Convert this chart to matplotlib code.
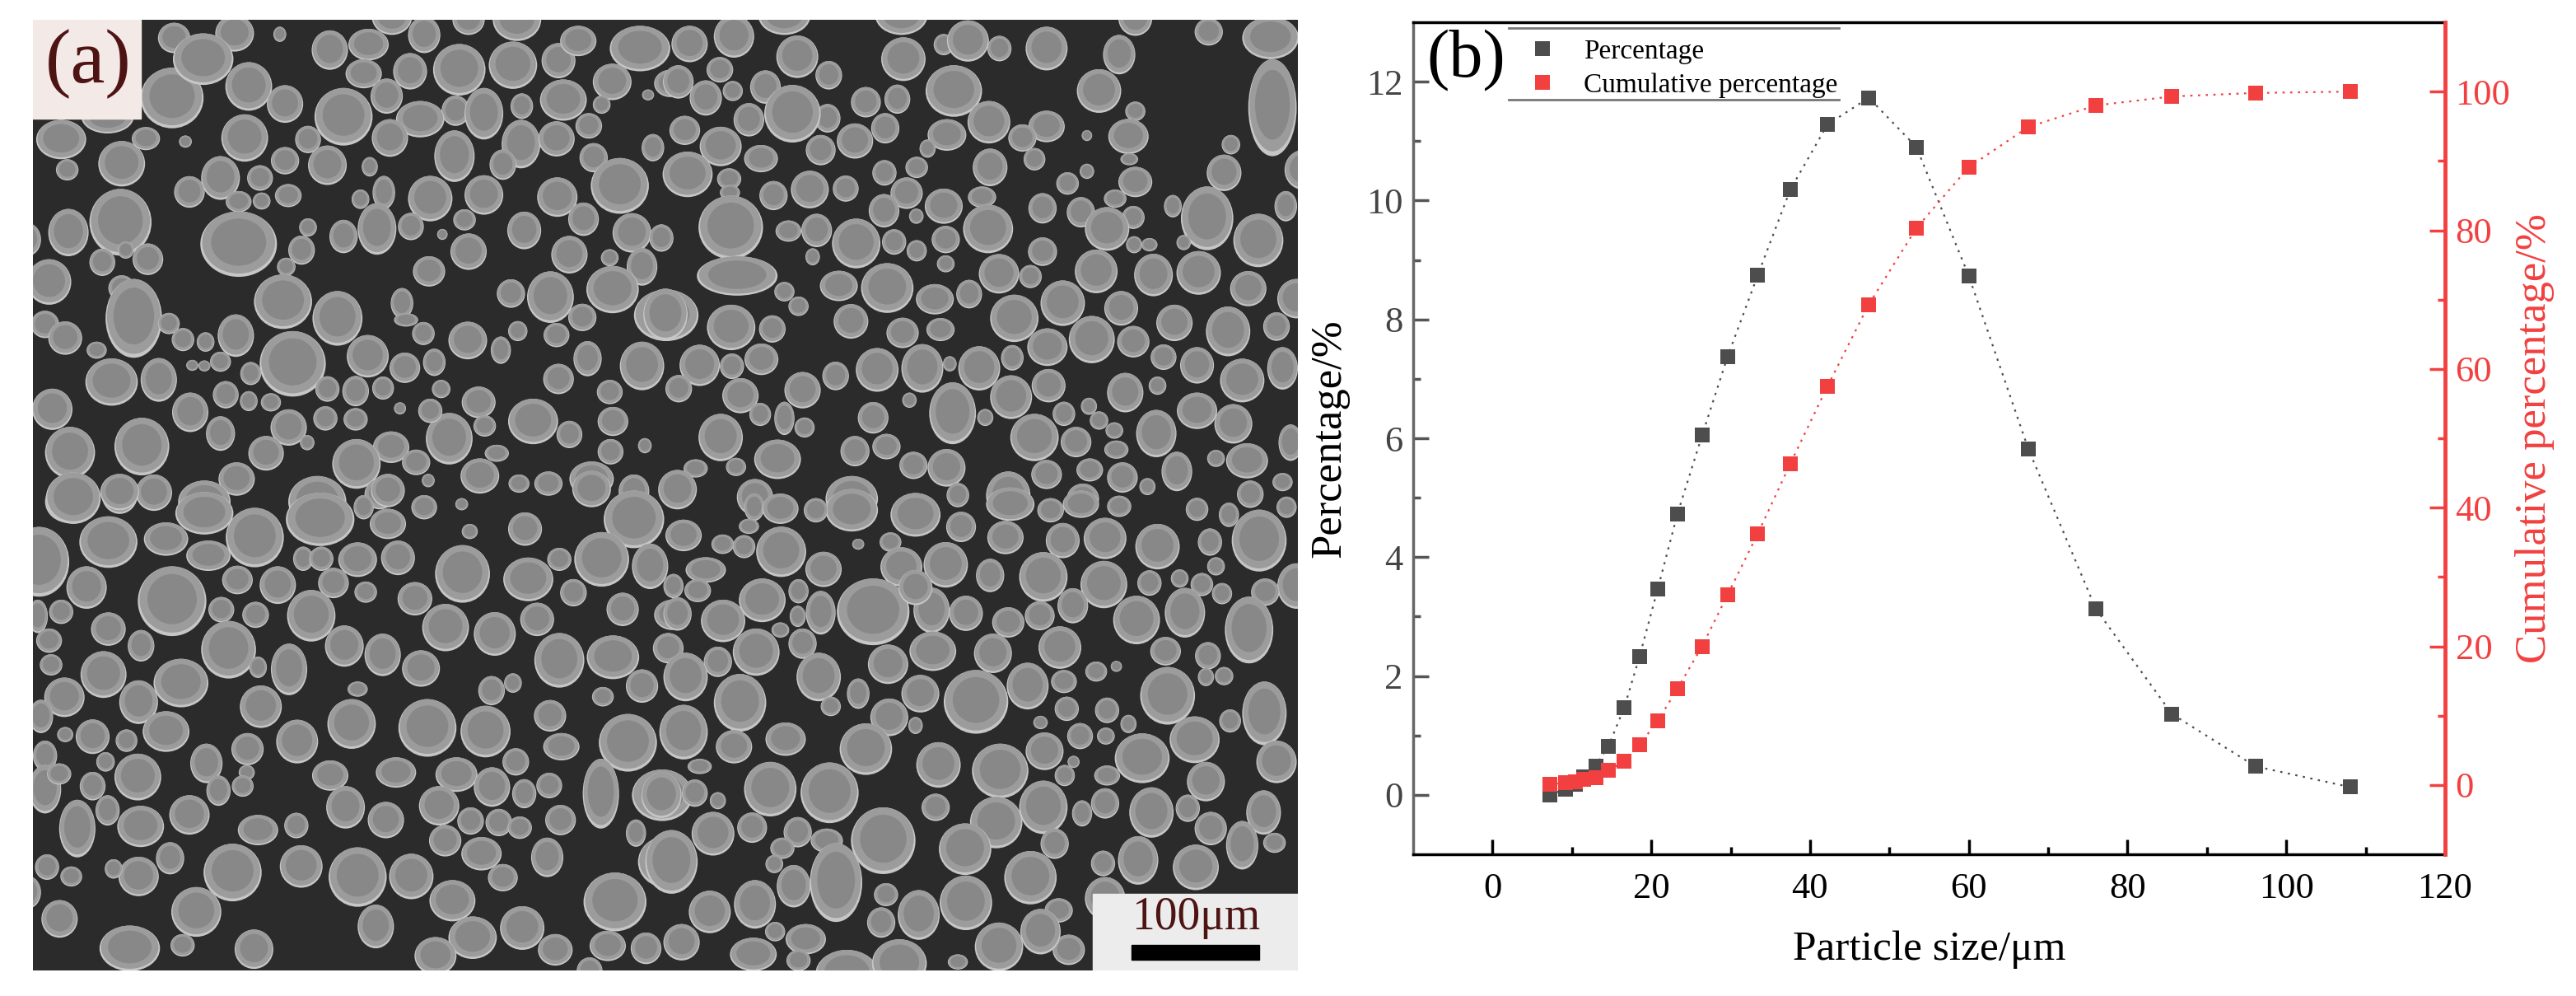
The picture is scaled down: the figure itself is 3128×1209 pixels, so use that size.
import matplotlib
matplotlib.use('Agg')
import matplotlib.pyplot as plt
from matplotlib.lines import Line2D
from matplotlib.patches import Ellipse, Rectangle

plt.rcParams['font.family'] = ['Liberation Serif', 'DejaVu Serif']

W, H = 3128, 1209

# --- panel (b) values ---
size_um = [7.2, 9.2, 10.4, 11.5, 13.0, 14.6, 16.6, 18.5, 20.8, 23.3, 26.4, 29.6,
           33.4, 37.5, 42.2, 47.4, 53.4, 60.0, 67.5, 76.0, 85.6, 96.1, 108.1]
percentage = [0.0, 0.1, 0.18, 0.3, 0.49, 0.82, 1.47, 2.32, 3.46, 4.73, 6.05, 7.37,
              8.74, 10.18, 11.28, 11.73, 10.9, 8.73, 5.82, 3.13, 1.36, 0.48, 0.13]
cumulative = [0.1, 0.3, 0.5, 0.8, 1.1, 2.1, 3.4, 5.8, 9.2, 13.9, 20.0, 27.4,
              36.2, 46.3, 57.5, 69.3, 80.3, 89.1, 94.9, 98.0, 99.3, 99.8, 100.0]
x_ticks = [0, 20, 40, 60, 80, 100, 120]
left_ticks = [0, 2, 4, 6, 8, 10, 12]
right_ticks = [0, 20, 40, 60, 80, 100]

particles_tl = [
    (345,258,78,100),(535,220,58,80),(350,60,40,50),(500,45,48,60),(422,130,75,85),(612,48,16,25),
    (736,100,45,65),(832,82,50,52),(890,-10,50,60),(970,50,40,60),(820,178,45,48),(935,170,42,60),
    (1057,165,65,85),(1190,150,60,78),(1303,135,42,58),(1352,70,45,50),(1200,0,60,70),(1080,0,40,50),
    (1505,95,75,75),(1436,205,48,60),(1580,210,40,45),(1315,265,58,68),(1525,248,15,18),(1410,280,22,30),
    (1212,285,28,42),(1048,300,35,50),(1118,310,48,85),(877,252,40,58),(960,328,60,60),(770,320,72,95),
    (625,278,45,62),(525,390,58,78),(682,395,32,45),(885,390,45,62),(1045,450,50,85),(1210,410,48,80),
    (1298,393,45,58),(1378,350,33,42),(1537,422,28,45),(1390,455,35,48),(1165,478,33,50),(1455,548,72,92),
    (1300,585,50,65),(1118,578,48,65),(985,590,55,75),(730,480,48,65),(625,465,35,45),(835,485,20,32),
    (563,522,32,42),(465,522,48,72),(388,568,38,52),(633,580,33,38),(567,598,22,28),(510,600,32,35),
    (220,475,58,75),(280,392,35,38),(378,402,16,20),(70,395,62,65),(185,320,65,55),(85,495,28,35),
    (88,702,50,78),(217,668,77,110),(510,740,95,108),(-15,725,35,55),(666,760,33,48),(682,685,22,30),
    (628,815,23,30),(770,715,35,55),(870,570,28,55),(853,690,48,85),(812,592,22,32),(937,682,32,45),
    (1070,660,28,35),(1218,695,42,62),(1365,658,38,55),(1080,765,45,60),(982,830,40,50),(1015,708,13,18),
    (1330,775,45,62),(1485,703,48,65),(1430,785,22,28),(1510,815,38,62),(285,790,38,52),(172,800,32,45),
    (230,760,20,28),(40,865,55,75),(220,885,33,42),(250,985,70,130),(337,1002,27,35),(372,1055,28,38),
    (428,1063,22,32),(503,1042,45,70),(620,930,72,90),(755,985,62,90),(915,935,28,50),(925,990,30,22),
    (968,1035,28,38),(1078,1058,48,62),(1185,903,35,47),(1283,915,58,85),(1437,890,65,78),(1570,975,80,85),
    (1362,982,35,45),(1202,1027,24,33),(1298,1040,32,40),(1160,1090,25,45),(1375,1118,35,58),(1303,1185,38,50),
    (1510,1142,55,80),(1430,1228,32,40),(1105,1262,42,52),(1240,1325,62,75),(1330,1368,32,45),(1438,1325,38,48),
    (1432,1425,32,42),(1517,1405,17,25),(1120,1340,28,35),(1032,1382,58,85),(1012,1218,23,30),(985,1290,30,40),
    (910,1282,15,20),(995,1130,28,45),(922,1148,38,50),(830,1110,52,70),(644,1135,82,108),(30,1005,35,45),
    (80,1050,42,55),(158,1090,25,28),(195,1195,65,78),(312,1188,45,72),(465,1128,26,33),(395,1140,15,18),
    (425,1142,15,18),(540,1167,26,38),(730,1218,30,42),(800,1225,33,50),(868,1215,27,38),(478,1237,32,45),
    (535,1258,22,33),(590,1262,25,30),(48,1285,50,68),(390,1295,45,65),(465,1365,36,57),(634,1345,45,60),
    (725,1315,30,40),(800,1318,30,37),(578,1430,44,57),(92,1428,62,85),(270,1408,68,95),(680,1395,18,25),
    (888,1410,45,52),(950,1460,35,42),(802,1465,60,82),(1108,1505,48,58),(1150,1430,30,28),(1385,1515,55,58),
    (1278,1530,35,40),(1205,1530,26,30),(1490,1555,38,55),(505,1515,45,55),(300,1560,45,60),(215,1565,45,65),
    (90,1590,60,70),(425,1590,65,70),(705,1590,72,85),(860,1565,38,50),(980,1520,16,22),
]
particles_tr = [
    (60,80,45,60),(170,55,50,70),(295,-15,65,65),(327,122,52,70),(585,-15,65,65),(590,130,55,72),
    (828,95,30,42),(690,82,25,35),(750,70,52,68),(945,95,52,72),(1125,115,40,65),(1165,-5,42,58),
    (1347,40,35,45),(1500,60,70,70),(32,205,38,55),(135,165,33,42),(405,183,33,47),(248,222,38,55),
    (100,258,40,58),(167,235,25,33),(402,325,32,47),(315,310,70,95),(497,272,37,50),(575,262,32,48),
    (715,235,70,85),(1075,235,55,72),(1165,302,25,32),(802,338,53,70),(698,380,48,52),(945,352,45,52),
    (885,390,35,45),(1148,385,50,58),(1045,382,13,18),(545,358,35,50),(470,400,45,58),(207,330,38,55),
    (48,365,38,48),(137,418,52,65),(385,430,37,50),(237,458,42,45),(55,510,62,75),(158,525,30,35),
    (650,425,20,30),(623,487,28,35),(543,505,30,42),(805,487,43,62),(915,460,27,37),(1402,412,23,32),
    (1150,460,22,20),(1165,535,42,50),(1045,500,18,25),(997,540,28,37),(1505,290,60,160),(1385,505,43,60),
    (1580,495,45,65),(160,570,25,25),(162,685,80,105),(268,580,35,48),(358,560,47,62),(447,557,32,43),
    (598,572,40,52),(690,615,47,58),(785,585,35,35),(542,630,38,55),(622,648,18,25),(800,690,62,80),
    (935,622,35,50),(1030,635,35,50),(1115,590,28,30),(1160,652,28,38),(1095,690,55,72),(1258,615,22,37),
    (1343,655,65,105),(1538,615,28,50),(1470,728,62,88),(305,697,32,35),(375,695,38,55),(473,738,60,82),
    (567,733,30,42),(623,762,25,35),(695,725,35,45),(-10,720,30,45),(1200,742,20,22),(1162,742,20,28),
    (1285,735,18,25),(935,765,36,47),(365,782,18,28),(178,845,100,65),(827,838,50,65),(905,847,28,38),
    (1068,830,53,72),(1210,842,48,70),(1322,835,55,72),(1445,887,45,58),(430,878,47,50),(550,885,65,82),
    (668,922,47,50),(753,905,32,47),(695,805,22,28),(295,897,25,32),(330,945,25,32),(1565,920,48,65),
    (985,935,55,75),(865,985,60,78),(1130,952,42,57),(1262,1000,45,60),(1395,1028,55,82),(1515,1012,33,47),
    (0,972,55,85),(163,1015,60,75),(265,1020,33,45),(460,995,43,57),(588,1033,40,50),(682,1022,35,38),
    (947,1080,50,62),(1057,1055,57,78),(1160,1062,40,52),(1235,1113,32,42),(1318,1140,42,60),(1430,1190,55,72),
    (1530,1150,38,70),(165,1143,30,42),(85,1140,50,68),(238,1120,42,52),(525,1155,53,72),(637,1150,52,80),
    (705,1135,17,25),(778,1150,52,73),(860,1115,28,42),(950,1207,42,55),(1140,1230,45,65),(1220,1207,22,30),
    (422,1175,33,47),(340,1222,45,60),(186,1240,45,58),(33,1217,33,45),(857,1245,52,72),(515,1313,38,52),
    (605,1255,18,25),(793,1312,20,28),(712,1298,58,102),(235,1302,27,38),(295,1315,25,55),(345,1345,25,33),
    (1050,1275,20,28),(1075,1322,23,30),(988,1300,28,40),(1318,1290,50,60),(1408,1333,47,65),(1217,1365,50,78),
    (137,1378,55,78),(1113,1355,22,27),(915,1378,60,78),(1018,1393,38,50),(1118,1418,30,30),(470,1423,36,50),
    (548,1408,35,42),(278,1450,58,65),(615,1470,35,45),(697,1478,47,62),(1442,1455,52,58),(1365,1447,22,28),
    (175,1475,25,30),(75,1480,30,30),(945,1500,38,48),(1052,1485,33,38),(1133,1510,38,50),(1268,1490,38,65),
    (30,1550,48,65),(222,1575,45,60),(462,1580,65,75),(850,1570,55,80),(1530,1525,25,30),(1035,1580,40,50),
    (1550,1395,30,60),(1195,1540,20,28),(1450,1565,33,45),
]
particles_bl = [
    (100,10,68,85),(215,-10,48,60),(425,60,72,70),(550,140,72,98),(820,40,25,40),(880,95,45,50),
    (712,80,85,88),(970,40,32,40),(1063,30,16,20),(880,-15,42,55),(1220,112,42,55),(1083,120,20,25),
    (1490,80,75,95),(1385,-20,48,60),(15,220,75,115),(330,145,55,55),(187,155,72,85),(435,200,55,50),
    (805,213,48,57),(905,207,42,57),(670,210,25,40),(715,210,30,40),(1065,260,68,95),(1228,278,62,72),
    (1305,212,30,38),(1410,212,68,90),(1530,235,45,75),(133,305,50,70),(507,280,38,47),(345,350,85,115),
    (607,297,45,62),(745,290,38,50),(825,320,28,35),(947,342,43,55),(1340,322,33,45),(467,378,32,42),
    (552,395,33,43),(690,398,60,85),(1023,437,58,78),(1145,458,52,72),(1250,410,42,55),(1462,377,40,55),
    (1585,395,45,50),(70,385,30,40),(12,400,25,55),(187,442,43,55),(268,497,33,52),(485,510,68,95),
    (772,498,48,68),(867,527,45,70),(962,572,47,60),(1305,545,62,90),(1438,535,65,72),(1575,505,38,50),
    (40,480,32,40),(45,560,28,35),(175,592,57,77),(367,620,68,80),(558,568,22,35),(635,575,45,85),
    (1137,645,33,48),(1190,620,22,32),(1510,630,40,55),(1413,665,27,32),(78,667,50,65),(262,683,48,72),
    (565,698,52,70),(805,640,25,25),(790,755,60,82),(978,768,72,95),(1122,780,62,85),(1282,728,40,52),
    (1475,817,72,95),(20,730,30,55),(148,797,42,57),(232,810,27,37),(330,780,58,67),(655,813,52,72),
    (532,838,40,53),(1310,830,45,45),(80,790,20,25),(30,860,30,50),(180,880,23,32),(260,930,58,77),
    (430,885,40,65),(460,975,30,50),(530,915,20,25),(520,960,27,35),(737,925,45,50),(775,1030,48,70),
    (900,915,50,50),(1050,922,52,57),(1197,880,33,45),(1138,963,45,65),(1218,985,30,48),(1280,958,32,42),
    (1408,985,45,115),(1560,990,75,85),(30,970,40,80),(65,920,30,35),(148,960,32,47),(185,1040,30,50),
    (110,1100,45,95),(267,1093,58,68),(388,1055,50,65),(558,1105,50,50),(653,1090,30,42),(875,1072,45,60),
    (1007,1025,50,65),(1085,1075,33,45),(1155,1080,33,45),(1207,1097,30,37),(1308,1072,38,50),(1022,1140,40,52),
    (1112,1183,50,55),(1275,1195,40,65),(1495,1115,25,45),(340,1198,35,53),(262,1258,50,65),(495,1245,72,95),
    (665,1225,53,70),(805,1260,72,98),(938,1258,55,75),(1165,1262,37,45),(1570,1210,70,85),(35,1227,30,42),
    (95,1258,27,33),(200,1233,22,32),(-15,1310,35,55),(405,1375,62,82),(1040,1338,57,68),(1443,1342,78,97),
    (66,1398,45,62),(850,1423,45,72),(1213,1428,55,72),(1090,1460,60,70),(240,1495,75,75),(371,1485,30,37),
    (548,1498,48,65),(998,1520,52,62),(1295,1500,43,52),(1425,1487,45,50),(1520,1495,38,52),(1380,1570,32,45),
]
particles_br = [
    (220,40,25,45),(285,45,45,50),(462,50,65,70),(373,50,30,40),(620,65,62,72),(855,30,60,55),
    (725,0,28,40),(955,50,33,40),(1030,30,45,45),(1125,37,30,35),(1318,47,28,38),(1397,65,25,40),
    (1472,150,68,102),(1540,40,25,35),(45,133,45,52),(142,162,28,32),(195,170,28,38),(287,187,62,83),
    (392,245,45,58),(207,103,25,25),(733,105,37,50),(843,140,45,55),(985,150,42,58),(1090,143,53,68),
    (1220,170,55,75),(1350,155,30,45),(558,155,27,32),(478,162,15,18),(695,230,55,75),(585,237,52,65),
    (805,265,35,55),(1365,235,22,30),(937,270,60,82),(1087,295,58,78),(1200,290,30,42),(1275,275,22,30),
    (1330,295,28,38),(1565,300,48,75),(100,247,50,42),(20,300,25,40),(330,317,25,40),(240,347,58,72),
    (80,315,33,38),(385,388,37,72),(660,380,45,75),(515,385,90,110),(620,305,42,58),(745,390,42,58),
    (1010,365,38,58),(1168,412,58,80),(1288,388,50,82),(1380,325,25,35),(1487,320,35,45),(1447,445,60,110),
    (30,392,35,55),(143,415,55,70),(328,400,20,35),(928,398,37,48),(850,420,40,50),(1240,515,38,47),
    (1345,530,32,45),(225,518,58,78),(285,445,22,25),(340,490,35,50),(552,558,50,65),(663,515,58,65),
    (812,522,47,65),(978,503,53,70),(130,550,35,50),(50,600,55,80),(380,600,55,80),(478,655,28,50),
    (632,655,47,62),(898,630,52,77),(1068,582,27,33),(1118,565,14,18),(1385,597,23,30),(988,615,32,38),
    (1340,600,20,30),(1245,662,68,95),(185,685,65,95),(410,697,25,32),(620,760,18,28),(555,733,47,62),
    (770,682,80,105),(1095,710,30,42),(995,705,30,40),(1400,745,27,38),(1485,720,55,105),(45,782,60,90),
    (1148,755,20,30),(930,750,18,22),(298,805,50,55),(170,830,45,55),(497,838,65,85),(940,845,47,62),
    (1028,795,32,43),(1092,795,22,28),(1312,807,62,77),(1182,868,68,82),(1515,880,50,70),(677,890,55,75),
    (830,910,70,90),(85,895,30,25),(260,970,65,90),(407,982,72,100),(990,925,25,35),(1095,925,32,33),
    (1340,945,47,65),(1012,880,15,20),(-10,990,50,75),(73,983,32,45),(130,1008,20,28),(670,1030,35,45),
    (820,1080,65,85),(937,1030,60,88),(1033,1050,25,43),(1090,1017,35,50),(1205,1047,55,83),(1295,1033,30,45),
    (1483,1047,43,73),(118,1117,53,72),(215,1097,37,50),(328,1112,35,50),(15,1210,65,105),(540,1140,80,110),
    (743,1168,65,85),(965,1150,35,50),(1352,1100,40,55),(1430,1155,40,80),(1510,1147,28,33),(400,1140,40,40),
    (290,1165,30,35),(270,1217,22,30),(1085,1215,30,42),(1172,1205,50,80),(1315,1228,57,75),(905,1262,65,88),
    (318,1290,42,70),(423,1278,65,130),(222,1350,52,80),(110,1375,52,70),(547,1318,30,38),(628,1385,52,82),
    (745,1345,65,90),(535,1410,35,50),(1090,1330,50,70),(1000,1500,40,50),(975,1370,35,40),(930,1440,50,75),
    (40,1475,45,60),(348,1465,50,50),(272,1440,25,32),(218,1515,58,55),(450,1580,78,80),(580,1545,68,80),
    (827,1490,60,80),(725,1540,25,25),(330,1535,30,35),
]
# crop origin in reference pixels for each quadrant
quadrants = [(particles_tl, 40, 24), (particles_tr, 808, 24),
             (particles_bl, 40, 601), (particles_br, 808, 601)]

BLACK_S = '#4d4d4d'
RED_S = '#f24040'
MAROON = '#4e1414'


def fig_axes(fig, x0, y0, x1, y1):
    # axes from reference pixel box
    return fig.add_axes([x0 / W, 1 - y1 / H, (x1 - x0) / W, (y1 - y0) / H])


def draw_micrograph(fig):
    ax = fig_axes(fig, 40, 24, 1576, 1178)
    ax.set_xlim(40, 1576)
    ax.set_ylim(1178, 24)
    ax.set_axis_off()
    ax.add_patch(Rectangle((40, 24), 1536, 1154, color='#2b2b2b', zorder=0))

    # crop units to reference pixels
    sx, sy = 768 / 1568, 577 / 1568
    for plist, x0, y0 in quadrants:
        for zx, zy, rx, ry in plist:
            cx, cy = x0 + zx * sx, y0 + zy * sy
            w, h = 2 * rx * sx, 2 * ry * sy
            # bright rim, then body, then slightly darker middle
            ax.add_patch(Ellipse((cx, cy), w, h, fc='#c6c6c6', ec='none', zorder=1))
            ax.add_patch(Ellipse((cx, cy - 0.025 * h), 0.95 * w, 0.95 * h, fc='#9c9c9c', ec='none', zorder=1))
            ax.add_patch(Ellipse((cx, cy - 0.03 * h), 0.72 * w, 0.72 * h, fc='#888888', ec='none', zorder=1))

    ax.add_patch(Rectangle((40, 24), 131, 120, color='#f3e9e7', zorder=3))
    ax.text(107, 78, '(a)', fontsize=68, color=MAROON, ha='center', va='center', zorder=4)
    ax.add_patch(Rectangle((1327, 1085), 249, 93, color='#ececec', zorder=3))
    ax.text(1452, 1114, '100\u03bcm', fontsize=40, color=MAROON, ha='center', va='center', zorder=4)
    ax.add_patch(Rectangle((1374, 1147), 155, 18, color='black', zorder=4))


def draw_distribution(fig):
    ax = fig_axes(fig, 1716, 27, 2969, 1037)
    ax.plot(size_um, percentage, ls=(0, (1.2, 3)), lw=1.6, color=BLACK_S,
            marker='s', ms=13.5, mew=0, zorder=3)
    ax.set_xlim(-10, 120)
    ax.set_ylim(-1, 13)
    ax.set_xticks(x_ticks)
    ax.set_xticks([10, 30, 50, 70, 90, 110], minor=True)
    ax.set_yticks(left_ticks)
    ax.set_yticks([1, 3, 5, 7, 9, 11], minor=True)
    ax.tick_params(axis='x', which='major', direction='in', length=13, width=2.5, labelsize=32, pad=16, color='black')
    ax.tick_params(axis='x', which='minor', direction='in', length=6.5, width=2.5, color='black')
    ax.tick_params(axis='y', which='major', direction='in', length=14, width=2.5, labelsize=32, pad=9,
                   color='#555555', labelcolor='#444444')
    ax.tick_params(axis='y', which='minor', direction='in', length=6.5, width=2.5, color='#555555')
    ax.spines['left'].set(color='#666666', linewidth=2.5)
    ax.spines['bottom'].set(color='black', linewidth=2.5)
    ax.spines['top'].set(color='black', linewidth=2.5)
    ax.spines['right'].set_visible(False)
    ax.set_xlabel('Particle size/\u03bcm', fontsize=37, labelpad=22)
    ax.set_ylabel('Percentage/%', fontsize=38, labelpad=15)

    ax2 = ax.twinx()
    ax2.plot(size_um, cumulative, ls=(0, (1.2, 3)), lw=1.6, color=RED_S,
             marker='s', ms=13.5, mew=0, zorder=4)
    ax2.set_ylim(-10, 110)
    ax2.set_yticks(right_ticks)
    ax2.set_yticks([10, 30, 50, 70, 90], minor=True)
    ax2.tick_params(axis='y', which='major', direction='in', length=14, width=2.5, labelsize=32, pad=9,
                    color=RED_S, labelcolor=RED_S)
    ax2.tick_params(axis='y', which='minor', direction='in', length=6.5, width=2.5, color=RED_S)
    for side in ['left', 'top', 'bottom']:
        ax2.spines[side].set_visible(False)
    ax2.spines['right'].set(color=RED_S, linewidth=3.5)
    ax2.set_ylabel('Cumulative percentage/%', fontsize=38, color=RED_S, labelpad=4)

    ax.text(0.051, 0.954, '(b)', transform=ax.transAxes, fontsize=59, ha='center', va='center', zorder=6)

    handles = [Line2D([], [], ls='none', marker='s', ms=13.5, mew=0, color=BLACK_S),
               Line2D([], [], ls='none', marker='s', ms=13.5, mew=0, color=RED_S)]
    ax2.legend(handles, ['Percentage', 'Cumulative percentage'], loc='upper left',
               bbox_to_anchor=(1846 / W, 1 - 37 / H), bbox_transform=fig.transFigure,
               frameon=False, fontsize=24, handlelength=1, handletextpad=1.0, labelspacing=0.33,
               borderpad=0.3, borderaxespad=0)
    # rules above and below the legend
    for y in [34, 121]:
        fig.add_artist(Line2D([1832 / W, 2233 / W], [1 - y / H, 1 - y / H], color='#777777', lw=2))


def main():
    fig = plt.figure(figsize=(W / 100, H / 100), dpi=100, facecolor='white')
    draw_micrograph(fig)
    draw_distribution(fig)
    fig.savefig('out.png', dpi=100)


if __name__ == '__main__':
    main()
